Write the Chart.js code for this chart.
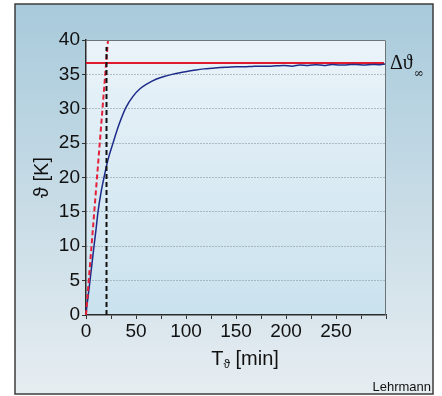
<!DOCTYPE html>
<html>
<head>
<meta charset="utf-8">
<script src="https://cdn.jsdelivr.net/npm/chart.js@4"></script>
<style>
  html, body { margin: 0; padding: 0; background: #fff; }
  canvas { display: block; }
</style>
</head>
<body>
<canvas id="chart1" width="442" height="396"></canvas>
<script>
// heating curve
const timeMin = [0, 0.5, 2, 4, 6, 8, 10, 12, 15, 18, 22, 27, 33, 40, 47, 54, 62, 70, 78, 86, 94,
  102, 110, 118, 126, 134, 142, 150, 158, 166, 174, 182, 190, 198, 206, 214, 222, 230, 238,
  246, 254, 262, 270, 278, 286, 294, 299];
const tempK = [0, 0.8, 2.6, 5, 7.5, 10, 12.4, 15, 17.8, 20, 22.6, 25, 27.7, 30.2, 31.8, 32.9, 33.7,
  34.3, 34.7, 35.0, 35.25, 35.45, 35.65, 35.8, 35.9, 36.0, 36.05, 36.1, 36.1, 36.15, 36.2, 36.2,
  36.25, 36.3, 36.2, 36.35, 36.3, 36.4, 36.3, 36.45, 36.35, 36.4, 36.45, 36.35, 36.45, 36.4, 36.5];

// tangent at t=0, time constant marker and final value
const tangentT = [0, 22];
const tangentV = [0, 40];
const tauT = [20.5, 20.5];
const tauV = [0, 39];
const finalT = [0, 298];
const finalV = [36.65, 36.65];

const xTicks = [0, 50, 100, 150, 200, 250];

function pts(xs, ys) {
  return xs.map((x, i) => ({ x: x, y: ys[i] }));
}

const sans = '"Liberation Sans", Arial, sans-serif';

const bgPlugin = {
  id: 'bg',
  beforeDraw(chart) {
    const c = chart.ctx, a = chart.chartArea;
    c.save();
    c.fillStyle = '#fff';
    c.fillRect(0, 0, chart.width, chart.height);
    let g = c.createLinearGradient(0, 4, 0, 394);
    g.addColorStop(0, '#a8cadb');
    g.addColorStop(1, '#e6edf1');
    c.fillStyle = g;
    c.fillRect(15, 4, 418, 390);
    c.lineWidth = 1.5;
    c.strokeStyle = '#3c3c3c';
    c.strokeRect(15, 4, 418, 390);
    g = c.createLinearGradient(0, a.top, 0, a.bottom);
    g.addColorStop(0, '#eaf3f9');
    g.addColorStop(1, '#cae2ee');
    c.fillStyle = g;
    c.fillRect(a.left, a.top, a.right - a.left, a.bottom - a.top);
    c.restore();
  },
  afterDraw(chart) {
    const c = chart.ctx, a = chart.chartArea;
    c.save();
    // top and right frame
    c.strokeStyle = '#6d7478';
    c.lineWidth = 1;
    c.beginPath();
    c.moveTo(a.left, a.top + 0.5);
    c.lineTo(a.right - 0.5, a.top + 0.5);
    c.lineTo(a.right - 0.5, a.bottom);
    c.stroke();

    c.fillStyle = '#111';
    // y title
    c.save();
    c.translate(42, (a.top + a.bottom) / 2);
    c.rotate(-Math.PI / 2);
    c.font = '20px ' + sans;
    c.textAlign = 'center';
    c.textBaseline = 'middle';
    c.fillText('ϑ [K]', 0, 0);
    c.restore();

    // x title with subscript
    const big = '20px ' + sans;
    const small = '12px ' + sans;
    c.font = big;
    const wT = c.measureText('T').width;
    const wR = c.measureText(' [min]').width;
    c.font = small;
    const wS = c.measureText('ϑ').width;
    let x = 245 - (wT + wS + wR) / 2;
    const base = 365;
    c.textBaseline = 'alphabetic';
    c.textAlign = 'left';
    c.font = big;
    c.fillText('T', x, base);
    x += wT;
    c.font = small;
    c.fillText('ϑ', x, base + 3);
    x += wS;
    c.font = big;
    c.fillText(' [min]', x, base);

    // final value label
    c.font = '20px "Liberation Serif", "DejaVu Serif", serif';
    c.fillText('Δϑ', 390, 69);
    const wd = c.measureText('Δϑ').width;
    c.font = '12px "DejaVu Serif", serif';
    c.fillText('∞', 390 + wd + 1, 77);

    // credit
    c.font = '13px ' + sans;
    c.textAlign = 'right';
    c.fillText('Lehrmann', 431, 391);
    c.restore();
  }
};

const g1 = {
  type: 'line',
  data: {
    datasets: [
      {
        data: pts(tauT, tauV),
        borderColor: '#111',
        borderWidth: 2,
        borderDash: [5, 3],
        pointRadius: 0
      },
      {
        data: pts(tangentT, tangentV),
        borderColor: '#e4203a',
        borderWidth: 2,
        borderDash: [5, 3],
        pointRadius: 0,
        clip: false
      },
      {
        data: pts(timeMin, tempK),
        borderColor: '#1c2b88',
        borderWidth: 1.5,
        pointRadius: 0,
        cubicInterpolationMode: 'monotone'
      },
      {
        data: pts(finalT, finalV),
        borderColor: '#e0192e',
        borderWidth: 2,
        pointRadius: 0
      }
    ]
  },
  options: {
    responsive: false,
    animation: false,
    layout: { padding: { left: 46, right: 56, top: 40, bottom: 51 } },
    plugins: { legend: { display: false }, tooltip: { enabled: false } },
    scales: {
      x: {
        type: 'linear',
        min: 0,
        max: 300,
        afterFit(s) { s.height = 30; },
        afterBuildTicks(s) {
          s.ticks = [];
          for (let v = 0; v <= 300; v += 25) s.ticks.push({ value: v });
        },
        ticks: {
          autoSkip: false,
          maxRotation: 0,
          padding: 1,
          color: '#111',
          font: { family: sans, size: 19 },
          callback: v => xTicks.includes(v) ? String(v) : ''
        },
        grid: {
          drawOnChartArea: false,
          tickLength: 4,
          tickColor: '#333',
          color: '#333'
        },
        border: { color: '#2a2a2a', width: 1.5 }
      },
      y: {
        min: 0,
        max: 40,
        afterFit(s) { s.width = 40; },
        ticks: {
          stepSize: 5,
          padding: 2,
          color: '#111',
          font: { family: sans, size: 19 }
        },
        grid: {
          tickLength: 4,
          tickColor: '#333',
          tickBorderDash: [],
          lineWidth: 1,
          color: ctx => (ctx.tick && (ctx.tick.value === 0 || ctx.tick.value === 40)) ? 'rgba(0,0,0,0)' : '#7d8a92'
        },
        border: { color: '#2a2a2a', width: 1.5, dash: [1, 2] }
      }
    }
  },
  plugins: [bgPlugin]
};

var graf = new Chart(document.getElementById('chart1'), g1);
</script>
</body>
</html>
